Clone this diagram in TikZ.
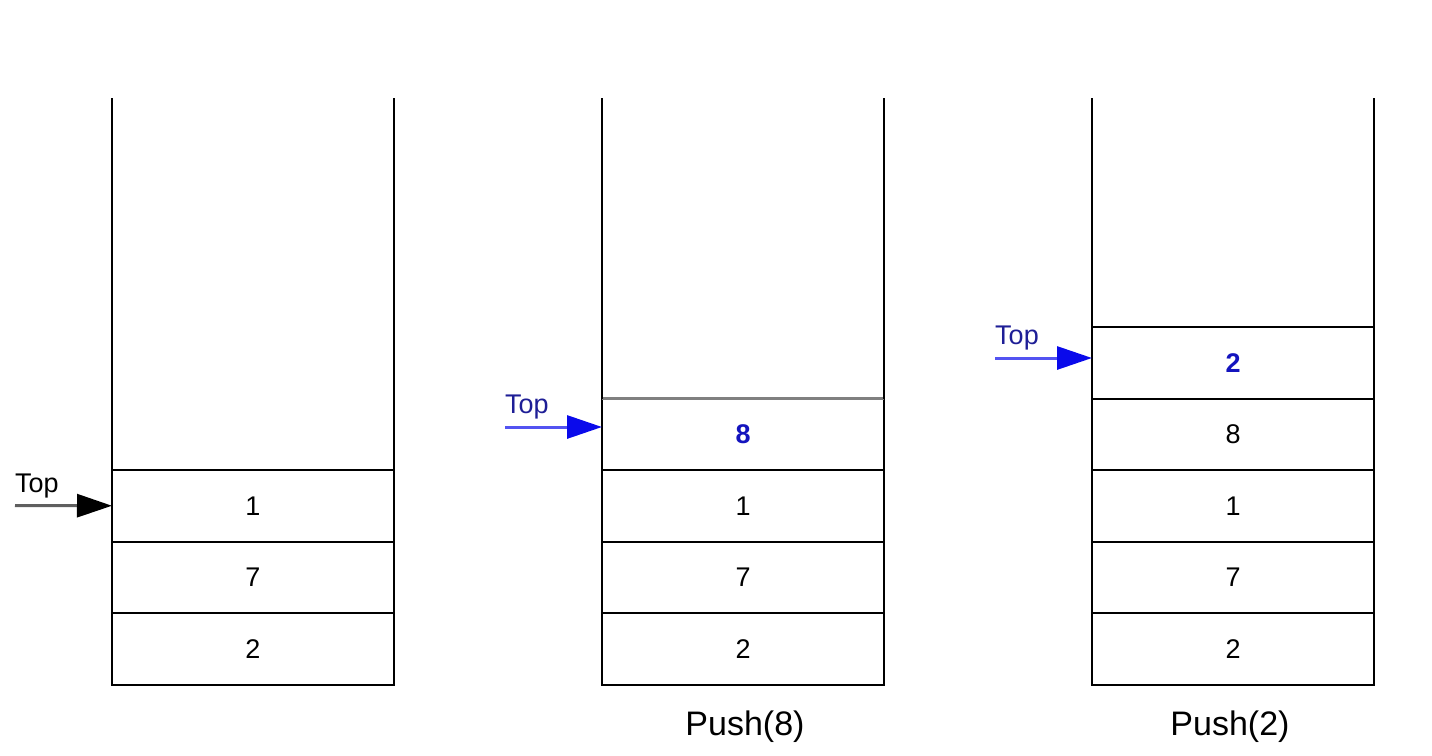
\documentclass[tikz,border=0pt]{standalone}
\usepackage{fontspec}
\setmainfont{Liberation Sans}
\usetikzlibrary{arrows.meta}
\definecolor{topblue}{RGB}{10,10,235}
\definecolor{valblue}{RGB}{20,20,190}
\definecolor{lblblue}{RGB}{30,30,150}
\definecolor{linegray}{RGB}{95,95,95}
\tikzset{
  cell/.style={draw=black, line width=2pt, minimum width=282pt, minimum height=71.5pt,
    inner sep=0pt, outer sep=0pt, font=\fontsize{27}{30}\selectfont, anchor=north west},
  wall/.style={draw=black, line width=2pt},
  toparrow/.style={line width=3pt, -{Triangle[length=35pt,width=23pt]}},
  toplabel/.style={font=\fontsize{27}{30}\selectfont, anchor=base west, inner sep=0pt},
  pushlabel/.style={font=\fontsize{34}{38}\selectfont, inner sep=0pt},
  bluevalue/.style={text=valblue, font=\fontsize{27}{30}\selectfont\bfseries}
}
\begin{document}
\begin{tikzpicture}[x=1pt,y=-1pt]
\useasboundingbox (0,0) rectangle (1432,755);

% ---- stack 1 ----
\node[cell] (s1c1) at (112,470) {1};
\node[cell] (s1c2) at (112,541.5) {7};
\node[cell] (s1c3) at (112,613) {2};
\coordinate (s1tl) at (112,98);
\coordinate (s1tr) at (394,98);
\draw[wall] (s1tl) -- (s1c1.north west);
\draw[wall] (s1tr) -- (s1c1.north east);
\coordinate (t1) at (15,505.5);
\draw[toparrow, draw=linegray, -{Triangle[length=35pt,width=23pt,color=black]}] (t1) -- (s1c1.west);
\node[toplabel] (l1) at (15,492) {Top};

% ---- stack 2 ----
\node[cell] (s2c0) at (602,398.5) {};
\node[cell] (s2c1) at (602,470) {1};
\node[cell] (s2c2) at (602,541.5) {7};
\node[cell] (s2c3) at (602,613) {2};
\node[bluevalue] (s2v) at (s2c0.center) {8};
\draw[line width=2.2pt, draw=gray] (s2c0.north west) -- (s2c0.north east);
\coordinate (s2tl) at (602,98);
\coordinate (s2tr) at (884,98);
\draw[wall] (s2tl) -- (s2c0.north west);
\draw[wall] (s2tr) -- (s2c0.north east);
\coordinate (t2) at (505,427);
\draw[toparrow, draw=topblue!70!white, -{Triangle[length=35pt,width=23pt,color=topblue]}] (t2) -- (s2c0.west |- t2);
\node[toplabel, text=lblblue] (l2) at (505,413) {Top};
\node[pushlabel] (p2) at (745,727) {Push(8)};

% ---- stack 3 ----
\node[cell] (s3c00) at (1092,327) {};
\node[cell] (s3c0) at (1092,398.5) {8};
\node[cell] (s3c1) at (1092,470) {1};
\node[cell] (s3c2) at (1092,541.5) {7};
\node[cell] (s3c3) at (1092,613) {2};
\node[bluevalue] (s3v) at (s3c00.center) {2};
\coordinate (s3tl) at (1092,98);
\coordinate (s3tr) at (1374,98);
\draw[wall] (s3tl) -- (s3c00.north west);
\draw[wall] (s3tr) -- (s3c00.north east);
\coordinate (t3) at (995,358);
\draw[toparrow, draw=topblue!70!white, -{Triangle[length=35pt,width=23pt,color=topblue]}] (t3) -- (s3c00.west |- t3);
\node[toplabel, text=lblblue] (l3) at (995,344) {Top};
\node[pushlabel] (p3) at (1230,727) {Push(2)};
\end{tikzpicture}
\end{document}
